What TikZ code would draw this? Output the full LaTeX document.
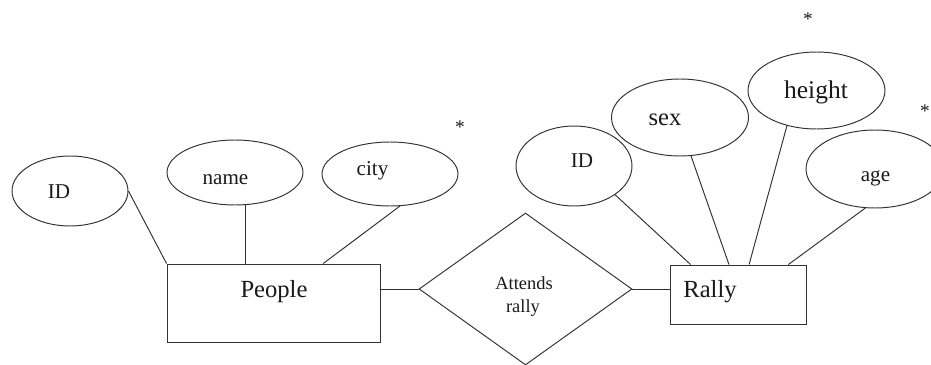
\documentclass[tikz,border=0pt]{standalone}
\usepackage{fontspec}
\setmainfont{Liberation Serif}
\usetikzlibrary{shapes.geometric,calc}
\definecolor{ink}{HTML}{333333}
\definecolor{txtc}{HTML}{1A1A1A}
\tikzset{
  attr/.style={ellipse,draw=ink,line width=0.55pt,inner sep=0pt},
  ent/.style={rectangle,draw=ink,line width=0.55pt,inner sep=0pt},
  rel/.style={diamond,draw=ink,line width=0.55pt,inner sep=0pt},
  lbl/.style={anchor=base,inner sep=0pt,text=txtc},
  conn/.style={draw=ink,line width=0.55pt},
  star/.style={anchor=base,inner sep=0pt,text=txtc,font=\fontsize{11}{13}\selectfont}
}
\begin{document}
\begin{tikzpicture}[x=0.02cm,y=-0.02cm]
\useasboundingbox[fill=white] (0,0) rectangle (931,365);
% entities
\node[ent,minimum width=4.28cm,minimum height=1.56cm] (people) at (274,303) {};
\node[ent,minimum width=2.72cm,minimum height=1.18cm] (rally) at (738,294.5) {};
% relationship
\node[rel,minimum width=4.26cm,minimum height=3.04cm] (attends) at (525.5,289) {};
% attributes of People
\node[attr,minimum width=2.32cm,minimum height=1.40cm] (pid) at (70,191) {};
\node[attr,minimum width=2.72cm,minimum height=1.30cm] (pname) at (235,172.5) {};
\node[attr,minimum width=2.72cm,minimum height=1.28cm] (pcity) at (390,174) {};
% attributes of Rally
\node[attr,minimum width=2.32cm,minimum height=1.60cm] (rid) at (574,166) {};
\node[attr,minimum width=2.74cm,minimum height=1.54cm] (rsex) at (680,117.5) {};
\node[attr,minimum width=2.74cm,minimum height=1.54cm] (rheight) at (816.5,90.5) {};
\node[attr,minimum width=2.76cm,minimum height=1.56cm] (rage) at (875,169) {};
% texts
\node[lbl,font=\fontsize{14}{16}\selectfont] (tpeople) at (274,297) {People};
\node[lbl,font=\fontsize{14}{16}\selectfont] (trally) at (710,297) {Rally};
\node[lbl,font=\fontsize{10.5}{12}\selectfont] (tattends) at (524,289) {Attends};
\node[lbl,font=\fontsize{10.5}{12}\selectfont] (trally2) at (523,312) {rally};
\node[lbl,font=\fontsize{12}{14}\selectfont] (tpid) at (59,198) {ID};
\node[lbl,font=\fontsize{12}{14}\selectfont] (tpname) at (225.5,184) {name};
\node[lbl,font=\fontsize{12}{14}\selectfont] (tpcity) at (372.5,175) {city};
\node[lbl,font=\fontsize{12}{14}\selectfont] (trid) at (582,167) {ID};
\node[lbl,font=\fontsize{14}{16}\selectfont] (trsex) at (665,125) {sex};
\node[lbl,font=\fontsize{14.5}{16}\selectfont] (trheight) at (816,98) {height};
\node[lbl,font=\fontsize{12}{14}\selectfont] (trage) at (875.5,181) {age};
% asterisks
\node[star] (s1) at (460,133) {*};
\node[star] (s2) at (808,26) {*};
\node[star] (s3) at (925,117) {*};
% connectors
\draw[conn] (pid.east) -- (people.north west);
\draw[conn] (pname.-72) -- (pname.-72 |- people.north);
\draw[conn] (pcity.-73) -- ($(people.north west)!0.729!(people.north east)$);
\draw[conn] (attends.west -| people.east) -- (attends.west);
\draw[conn] (attends.east) -- (attends.east -| rally.west);
\draw[conn] (rid.-35) -- ($(rally.north west)!0.154!(rally.north east)$);
\draw[conn] (rsex.-74) -- ($(rally.north west)!0.434!(rally.north east)$);
\draw[conn] (rheight.-130) -- ($(rally.north west)!0.581!(rally.north east)$);
\draw[conn] (rage.-104) -- ($(rally.north west)!0.868!(rally.north east)$);
\end{tikzpicture}
\end{document}
